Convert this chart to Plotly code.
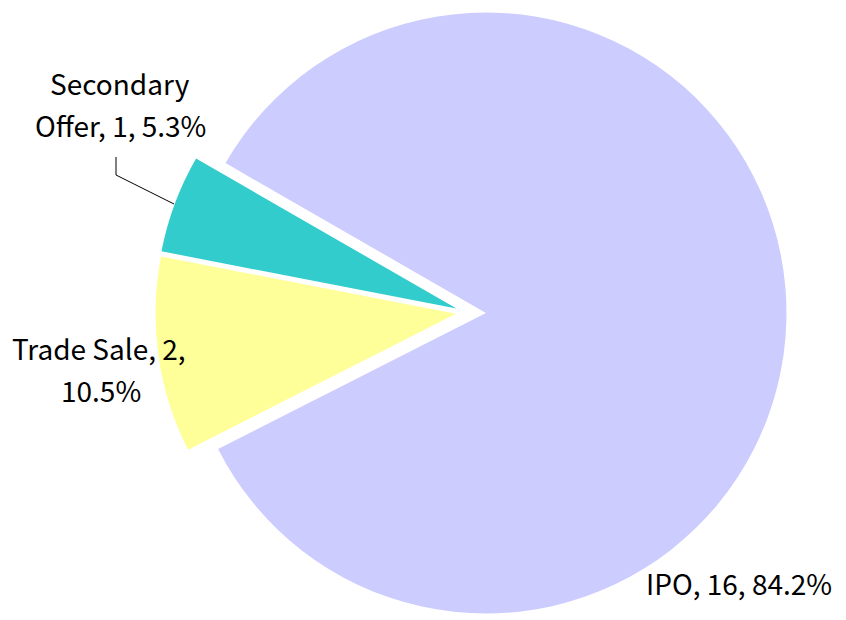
import plotly.graph_objects as go

# ---- data ----
categories = ["IPO", "Trade Sale", "Secondary Offer"]
values = [16, 2, 1]
colors = ["#CCCCFF", "#FFFF99", "#33CCCC"]

# ---- layout constants (pixels, in page coordinates) ----
W, H = 846, 620
OFF = 8  # page body margin
R = 300.5
# slice centres (exploded slices are offset from the main pie)
centers = [(486.0, 313.0), (456.0, 313.7), (456.5, 306.2)]
# label lines: number of words per line, and pixel centre of each line
label_words = [[3], [3, 1], [1, 3]]
label_pos = [[(739, 583)], [(99, 348), (100.5, 389.5)], [(119.5, 83), (120.5, 125)]]
FONT = "Noto Sans CJK JP"
FSIZE = 28


def fx(px):
    return (px - OFF) / W


def fy(py):
    return 1 - (py - OFF) / H


total = sum(values)
fig = go.Figure()
for i, (cx, cy) in enumerate(centers):
    cols = [colors[j] if j == i else "rgba(0,0,0,0)" for j in range(len(values))]
    cyf = max(cy - OFF, R)  # keep domain inside the figure
    cxf = cx - OFF
    fig.add_trace(go.Pie(
        labels=categories, values=values, sort=False, direction="clockwise",
        rotation=-60.08, textinfo="none", hoverinfo="skip",
        marker=dict(colors=cols, line=dict(width=0)),
        domain=dict(x=[(cxf - R) / W, (cxf + R) / W],
                    y=[max(0, 1 - (cyf + R) / H), min(1, 1 - (cyf - R) / H)]),
        showlegend=False,
    ))

annotations = []
for i, cat in enumerate(categories):
    pct = values[i] / total * 100
    words = f"{cat}, {values[i]}, {pct:.1f}%".split(" ")
    k = 0
    for n, (px, py) in zip(label_words[i], label_pos[i]):
        line = " ".join(words[k:k + n])
        k += n
        annotations.append(dict(
            text=line, x=fx(px), y=fy(py), xref="paper", yref="paper",
            xanchor="center", yanchor="middle", showarrow=False,
            font=dict(family=FONT, size=FSIZE, color="#000000"),
        ))

# leader line for Secondary Offer label
pts = [(116, 157), (116, 175), (174, 204)]
path = "M " + " L ".join(f"{fx(x)} {fy(y)}" for x, y in pts)
fig.update_layout(
    width=W, height=H, margin=dict(l=0, r=0, t=0, b=0),
    paper_bgcolor="white", plot_bgcolor="white",
    annotations=annotations,
    shapes=[dict(type="path", path=path, xref="paper", yref="paper",
                 line=dict(color="black", width=1))],
)
fig.write_html("out.html")
